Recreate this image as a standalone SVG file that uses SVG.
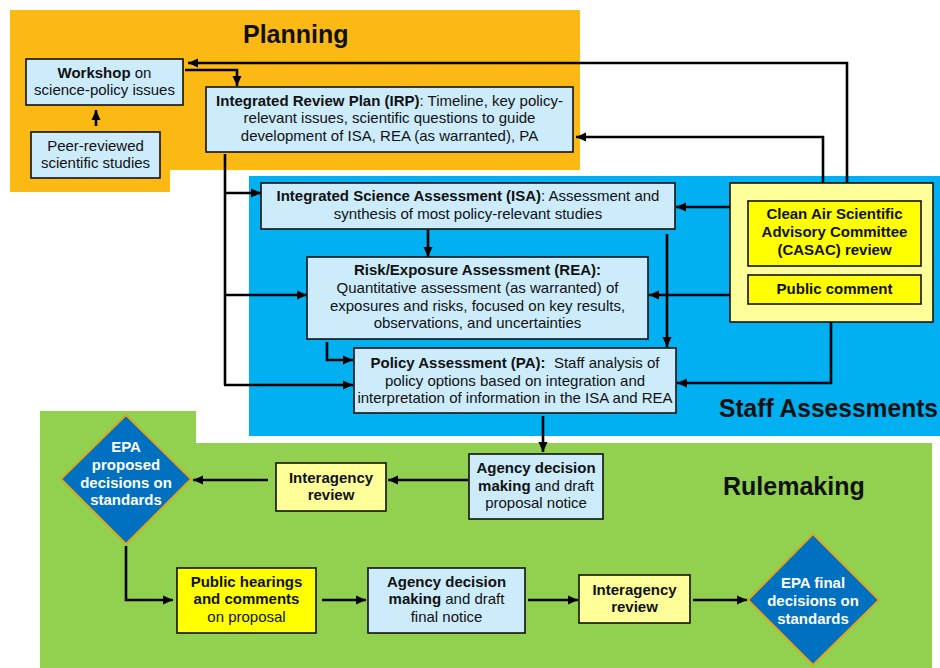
<svg xmlns="http://www.w3.org/2000/svg" width="940" height="668" viewBox="0 0 940 668">
<style>
text{font-family:"Liberation Sans",Arial,sans-serif;font-size:15px;fill:#111;text-anchor:middle}
.b{font-weight:bold}
.title{font-weight:bold;font-size:25px;text-anchor:start}
.wt{fill:#fff;font-weight:bold}
.lb{fill:#CCECFC;stroke:#111;stroke-width:1.6}
.ly{fill:#FFFF99;stroke:#111;stroke-width:1.6}
.yy{fill:#FFFF00;stroke:#111;stroke-width:1.6}
.dm{fill:#0070C0;stroke:#D9A81E;stroke-width:2}
.c{fill:none;stroke:#000;stroke-width:2.6}
</style>
<defs>
<marker id="ah" markerUnits="userSpaceOnUse" markerWidth="10" markerHeight="10" refX="10" refY="5" orient="auto">
<path d="M0,0.5 L10,5 L0,9.5 z" fill="#000"/>
</marker>
</defs>
<g id="regions">
<polygon id="planning-area" points="10,10 580,10 580,170 170,170 170,192 10,192" fill="#FDB913"/>
<rect id="staff-area" x="249" y="176" width="691" height="260" fill="#00B0F0"/>
<polygon id="rulemaking-area" points="40,411 196,411 196,443 932,443 932,668 40,668" fill="#92D050"/>
<text class="title" x="243" y="43">Planning</text>
<text class="title" x="719" y="417" font-size="26" textLength="219" lengthAdjust="spacingAndGlyphs">Staff Assessments</text>
<text class="title" x="723" y="495">Rulemaking</text>
</g>
<g id="connectors">
<polyline class="c" points="847,183 847,63 188,63" marker-end="url(#ah)"/>
<polyline class="c" points="185,70 237,70 237,86" marker-end="url(#ah)"/>
<polyline class="c" points="823,183 823,137 576,137" marker-end="url(#ah)"/>
<line class="c" x1="96" y1="126" x2="96" y2="110" marker-end="url(#ah)"/>
<line class="c" x1="225" y1="154" x2="225" y2="385"/>
<line class="c" x1="224" y1="193" x2="261" y2="193" marker-end="url(#ah)"/>
<line class="c" x1="224" y1="295" x2="307" y2="295" marker-end="url(#ah)"/>
<line class="c" x1="224" y1="385" x2="353" y2="385" marker-end="url(#ah)"/>
<line class="c" x1="428" y1="230" x2="428" y2="257" marker-end="url(#ah)"/>
<polyline class="c" points="327,342 327,360 353,360" marker-end="url(#ah)"/>
<line class="c" x1="667" y1="234" x2="667" y2="347" marker-end="url(#ah)"/>
<line class="c" x1="730" y1="207" x2="676" y2="207" marker-end="url(#ah)"/>
<line class="c" x1="730" y1="295" x2="649" y2="295" marker-end="url(#ah)"/>
<polyline class="c" points="831,322 831,383 677,383" marker-end="url(#ah)"/>
<line class="c" x1="543" y1="416" x2="543" y2="452" marker-end="url(#ah)"/>
<line class="c" x1="468" y1="480" x2="388" y2="480" marker-end="url(#ah)"/>
<line class="c" x1="268" y1="480" x2="193" y2="480" marker-end="url(#ah)"/>
<polyline class="c" points="126,546 126,600 173,600" marker-end="url(#ah)"/>
<line class="c" x1="322" y1="600" x2="366" y2="600" marker-end="url(#ah)"/>
<line class="c" x1="528" y1="600" x2="578" y2="600" marker-end="url(#ah)"/>
<line class="c" x1="693" y1="600" x2="747" y2="600" marker-end="url(#ah)"/>
</g>
<g id="workshop">
<rect class="lb" x="26" y="59" width="157" height="46"/>
<text x="104.5" y="78"><tspan class="b">Workshop</tspan> on</text>
<text x="104.5" y="95">science-policy issues</text>
</g>
<g id="peer-reviewed">
<rect class="lb" x="31" y="132" width="129" height="46"/>
<text x="95.5" y="151">Peer-reviewed</text>
<text x="95.5" y="168">scientific studies</text>
</g>
<g id="irp">
<rect class="lb" x="206" y="87" width="367" height="65"/>
<text x="389.5" y="106"><tspan class="b">Integrated Review Plan (IRP)</tspan>: Timeline, key policy-</text>
<text x="389.5" y="123">relevant issues, scientific questions to guide</text>
<text x="389.5" y="141">development of ISA, REA (as warranted), PA</text>
</g>
<g id="isa">
<rect class="lb" x="261" y="183" width="414" height="46"/>
<text x="468" y="201"><tspan class="b">Integrated Science Assessment (ISA)</tspan>: Assessment and</text>
<text x="468" y="219">synthesis of most policy-relevant studies</text>
</g>
<g id="rea">
<rect class="lb" x="307" y="257" width="341" height="82"/>
<text class="b" x="477.5" y="275">Risk/Exposure Assessment (REA):</text>
<text x="477.5" y="293">Quantitative assessment (as warranted) of</text>
<text x="477.5" y="311">exposures and risks, focused on key results,</text>
<text x="477.5" y="328">observations, and uncertainties</text>
</g>
<g id="pa">
<rect class="lb" x="354" y="348" width="322" height="65"/>
<text x="515" y="368"><tspan class="b">Policy Assessment (PA):</tspan>&#160; Staff analysis of</text>
<text x="515" y="386">policy options based on integration and</text>
<text x="515" y="403">interpretation of information in the ISA and REA</text>
</g>
<g id="review-panel">
<rect class="ly" x="730" y="183" width="203" height="139"/>
</g>
<g id="casac">
<rect class="yy" x="748" y="201" width="173" height="65"/>
<text class="b" x="834.5" y="219">Clean Air Scientific</text>
<text class="b" x="834.5" y="237">Advisory Committee</text>
<text class="b" x="834.5" y="255">(CASAC) review</text>
</g>
<g id="public-comment">
<rect class="yy" x="748" y="275" width="173" height="29"/>
<text class="b" x="834.5" y="294">Public comment</text>
</g>
<g id="agency-proposal">
<rect class="lb" x="469" y="454" width="134" height="65"/>
<text class="b" x="536" y="473">Agency decision</text>
<text x="536" y="491"><tspan class="b">making</tspan> and draft</text>
<text x="536" y="508">proposal notice</text>
</g>
<g id="interagency-1">
<rect class="ly" x="276" y="463" width="110" height="48"/>
<text class="b" x="331" y="483">Interagency</text>
<text class="b" x="331" y="500">review</text>
</g>
<g id="epa-proposed">
<polygon class="dm" points="126,415 191,479 126,544 61,479"/>
<text class="wt" x="126" y="452">EPA</text>
<text class="wt" x="126" y="470">proposed</text>
<text class="wt" x="126" y="488">decisions on</text>
<text class="wt" x="126" y="505">standards</text>
</g>
<g id="public-hearings">
<rect class="yy" x="177" y="568" width="139" height="65"/>
<text class="b" x="246.5" y="587">Public hearings</text>
<text class="b" x="246.5" y="604">and comments</text>
<text x="246.5" y="622">on proposal</text>
</g>
<g id="agency-final">
<rect class="lb" x="368" y="568" width="157" height="65"/>
<text class="b" x="446.5" y="587">Agency decision</text>
<text x="446.5" y="604"><tspan class="b">making</tspan> and draft</text>
<text x="446.5" y="622">final notice</text>
</g>
<g id="interagency-2">
<rect class="ly" x="579" y="575" width="111" height="48"/>
<text class="b" x="634.5" y="595">Interagency</text>
<text class="b" x="634.5" y="612">review</text>
</g>
<g id="epa-final">
<polygon class="dm" points="813,534 879,600 813,665 748,600"/>
<text class="wt" x="813" y="588">EPA final</text>
<text class="wt" x="813" y="606">decisions on</text>
<text class="wt" x="813" y="624">standards</text>
</g>
</svg>
